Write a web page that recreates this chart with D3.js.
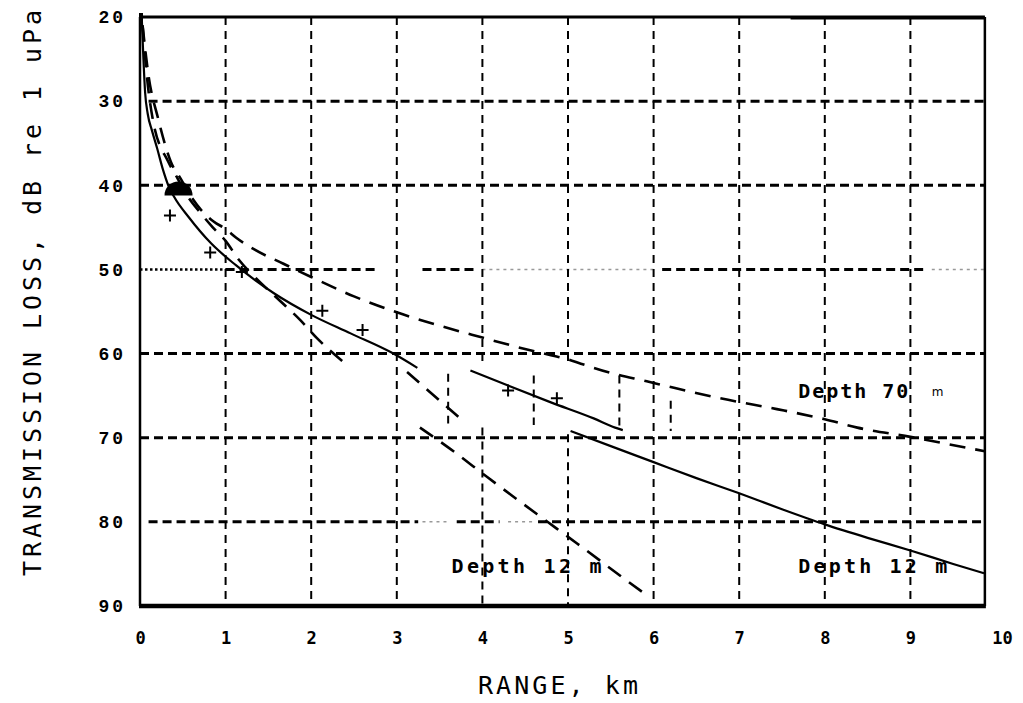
<!DOCTYPE html>
<html><head><meta charset="utf-8">
<script src="https://cdn.jsdelivr.net/npm/d3@7"></script>
<style>body{margin:0;background:#fff}</style>
</head><body>
<svg id="c" width="1023" height="703"></svg>
<script>
// ---------- data ----------
const xTicks = [0,1,2,3,4,5,6,7,8,9,10];
const xTickLabels = ["0","1","2","3","4","5","6","7","8","9","10"];
const yTicks = [20,30,40,50,60,70,80,90];
const yTickLabels = ["20","30","40","50","60","70","80","90"];

// measured / model solid curve (range km, loss dB), three pieces as printed
const solidA = [[0.02,20],[0.04,25],[0.06,29],[0.09,31.5],[0.14,33.5],[0.2,35.6],[0.27,38.2],[0.33,40],[0.4,41.4],[0.57,43.8],[0.83,46.9],[1.12,49.5],[1.56,52.8],[2.0,55.4],[2.46,57.6],[2.96,60],[3.24,61.7]];
const solidB = [[3.86,62],[4.3,63.8],[4.8,65.8],[5.3,67.7],[5.55,68.8],[5.64,69.1]];
const solidC = [[5.03,69.2],[5.5,71.0],[6.0,72.9],[6.5,74.8],[7.0,76.6],[7.5,78.5],[8.0,80.3],[8.5,81.9],[9.0,83.4],[9.5,85.0],[9.86,86.1]];

// dashed curve, Depth 70 m
const depth70 = [[0.03,21],[0.1,27],[0.21,32],[0.36,37.2],[0.48,39.3],[0.6,41.4],[0.72,43],[0.86,44.3],[1.0,45.2],[1.12,46.2],[1.33,47.6],[1.67,49.3],[2.0,50.9],[2.5,53.2],[3.0,55.1],[3.47,56.6],[4.0,58.1],[4.4,59.2],[4.8,60.2],[5.0,60.7],[5.15,61.2],[5.5,62.3],[5.92,63.3],[6.25,64.1],[6.87,65.5],[7.44,66.6],[8.0,67.8],[8.38,68.8],[9.0,69.9],[9.66,71.2],[9.87,71.6]];

// dashed curve, Depth 12 m (three printed pieces)
const depth12A = [[0.03,21],[0.08,27],[0.15,32.2],[0.33,37.2],[0.44,39.2],[0.55,41.2],[0.7,43.2],[0.85,45],[1.0,46.6],[1.15,48.8],[1.35,51],[1.6,53.4],[1.87,56],[2.07,58.2],[2.4,61.2]];
const depth12B = [[3.12,62.2],[3.74,67.7]];
const depth12C = [[3.27,68.8],[3.62,71.3],[4.06,74.7],[4.64,79.1],[5.11,82.6],[5.61,86.4],[5.93,88.8]];

// measured points
const plusPoints = [[0.35,43.6],[0.82,48],[1.19,50.3],[2.13,54.9],[2.6,57.2],[4.3,64.4],[4.87,65.3]];
const blobPoint = [0.45,41.2];

// grid line pieces as printed: [dB, fromKm, toKm, kind]
const hGridParts = [
  [30,0.1,9.87,"d"],[40,0,9.87,"d"],
  [50,0,1.0,"p"],[50,1.0,2.75,"d"],[50,3.3,3.95,"d"],[50,4.0,6.0,"f"],[50,6.1,9.2,"d"],[50,9.25,9.87,"f"],
  [60,0,9.87,"d"],[70,0,9.87,"d"],
  [80,0.1,3.25,"d"],[80,3.3,3.6,"f"],[80,3.7,4.2,"d"],[80,4.3,4.6,"f"],[80,4.65,9.87,"d"]
];
// vertical grid pieces: [km, fromdB, todB]
const vGridParts = [
  [1,20,90],[2,20,90],[3,20,90],
  [4,20,61.6],[4,68.8,90],[5,20,61.6],[5,69.6,90],
  [6,20,90],[7,20,90],[8,20,90],[9,20,90],
  [3.6,62.4,68.3],[4.6,62.6,68.5],[5.6,62.6,69.0],[6.2,65.6,69.2]
];

const labels = [
  {t:"Depth 70", x:7.69, y:65.3, len:110},
  {t:"Depth 12 m", x:7.69, y:86.1, len:149},
  {t:"Depth 12 m", x:3.64, y:86.1, len:150}
];

// ---------- drawing ----------
const svg = d3.select("#c");
const x = d3.scaleLinear().domain([0,10]).range([140,996]);
const y = d3.scaleLinear().domain([20,90]).range([17,606]);
const xEnd = 9.87;

const g = svg.append("g");

const gridStroke = {d:"#000", p:"#000", f:"#999"};
const gridWidth = {d:3, p:2.5, f:1.5};
const gridDash = {d:"9,5", p:"2.5,2.5", f:"3,4"};
g.selectAll(".hg").data(hGridParts).join("line")
  .attr("x1",d=>x(d[1])).attr("x2",d=>x(d[2]))
  .attr("y1",d=>y(d[0])).attr("y2",d=>y(d[0]))
  .attr("stroke",d=>gridStroke[d[3]])
  .attr("stroke-width",d=>gridWidth[d[3]])
  .attr("stroke-dasharray",d=>gridDash[d[3]]);

g.selectAll(".vg").data(vGridParts).join("line")
  .attr("x1",d=>x(d[0])).attr("x2",d=>x(d[0]))
  .attr("y1",d=>y(d[1])).attr("y2",d=>y(d[2]))
  .attr("stroke","#000").attr("stroke-width",2)
  .attr("stroke-dasharray","8,6");

// frame
g.append("line").attr("x1",x(0)).attr("x2",x(xEnd)).attr("y1",y(20)).attr("y2",y(20)).attr("stroke","#000").attr("stroke-width",3);
g.append("line").attr("x1",x(7.6)).attr("x2",x(xEnd)).attr("y1",y(20)+1).attr("y2",y(20)+1).attr("stroke","#000").attr("stroke-width",3);
g.append("line").attr("x1",x(0)).attr("x2",x(0)).attr("y1",y(20)).attr("y2",y(90)).attr("stroke","#000").attr("stroke-width",2.5);
g.append("line").attr("x1",x(xEnd)).attr("x2",x(xEnd)).attr("y1",y(20)).attr("y2",y(90)).attr("stroke","#000").attr("stroke-width",2.5);
g.append("line").attr("x1",x(0)-1).attr("x2",x(xEnd)+1).attr("y1",y(90)).attr("y2",y(90)).attr("stroke","#000").attr("stroke-width",4.5);
g.append("rect").attr("x",x(0)-1).attr("y",y(20)-4).attr("width",4).attr("height",10).attr("fill","#000");

// curves
const line = d3.line().x(d=>x(d[0])).y(d=>y(d[1])).curve(d3.curveMonotoneX);
[solidA, solidB, solidC].forEach(s=>{
  g.append("path").attr("d",line(s)).attr("fill","none").attr("stroke","#000").attr("stroke-width",2.2);
});
[depth70, depth12A, depth12B, depth12C].forEach(s=>{
  g.append("path").attr("d",line(s)).attr("fill","none").attr("stroke","#000").attr("stroke-width",2.6)
   .attr("stroke-dasharray","16,10");
});

// markers
g.selectAll(".pl").data(plusPoints).join("path")
  .attr("transform",d=>`translate(${x(d[0])},${y(d[1])})`)
  .attr("d","M-6,0H6M0,-6V6").attr("stroke","#000").attr("stroke-width",2).attr("fill","none");

g.append("path")
  .attr("transform",`translate(${x(blobPoint[0])},${y(blobPoint[1])})`)
  .attr("d",d3.arc()({innerRadius:0,outerRadius:14,startAngle:-Math.PI/2,endAngle:Math.PI/2}))
  .attr("fill","#000");

// axis tick labels
const xAxis = d3.axisBottom(x).tickValues(xTicks).tickFormat((d,i)=>xTickLabels[i]).tickSize(0).tickPadding(0);
const xa = svg.append("g").attr("transform",`translate(0,${y(90)+38})`).call(xAxis);
xa.select(".domain").remove();
xa.selectAll("text").attr("font-family","DejaVu Sans Mono").attr("font-weight","bold").attr("font-size",17).attr("fill","#000").attr("dy","0");
xa.selectAll(".tick").filter(d=>d===10).select("text").attr("dx",6);

const yAxis = d3.axisLeft(y).tickValues(yTicks).tickFormat((d,i)=>yTickLabels[i]).tickSize(0).tickPadding(0);
const ya = svg.append("g").attr("transform",`translate(126,0)`).call(yAxis);
ya.select(".domain").remove();
ya.selectAll("text").attr("font-family","Liberation Mono").attr("font-weight","bold").attr("font-size",18)
  .attr("letter-spacing",3).attr("fill","#000").attr("dy","0.32em");

// in-plot labels
svg.selectAll(".lab").data(labels).join("text")
  .attr("x",d=>x(d.x)).attr("y",d=>y(d.y))
  .attr("textLength",d=>d.len).attr("lengthAdjust","spacing")
  .attr("font-family","DejaVu Sans Mono").attr("font-weight","bold").attr("font-size",20).attr("fill","#000")
  .text(d=>d.t);
svg.append("text").attr("x",x(9.25)).attr("y",y(65.1)).attr("font-family","DejaVu Sans").attr("font-size",12).text("m");

// axis titles
svg.append("text").attr("x",558).attr("y",694).attr("text-anchor","middle")
  .attr("font-family","DejaVu Sans Mono").attr("font-size",25).attr("textLength",160).attr("lengthAdjust","spacing")
  .text("RANGE, km");
svg.append("text").attr("transform","translate(41,293) rotate(-90)").attr("text-anchor","middle")
  .attr("font-family","DejaVu Sans Mono").attr("font-size",25).attr("textLength",566).attr("lengthAdjust","spacing")
  .text("TRANSMISSION LOSS, dB re 1 uPa");
</script>
</body></html>
